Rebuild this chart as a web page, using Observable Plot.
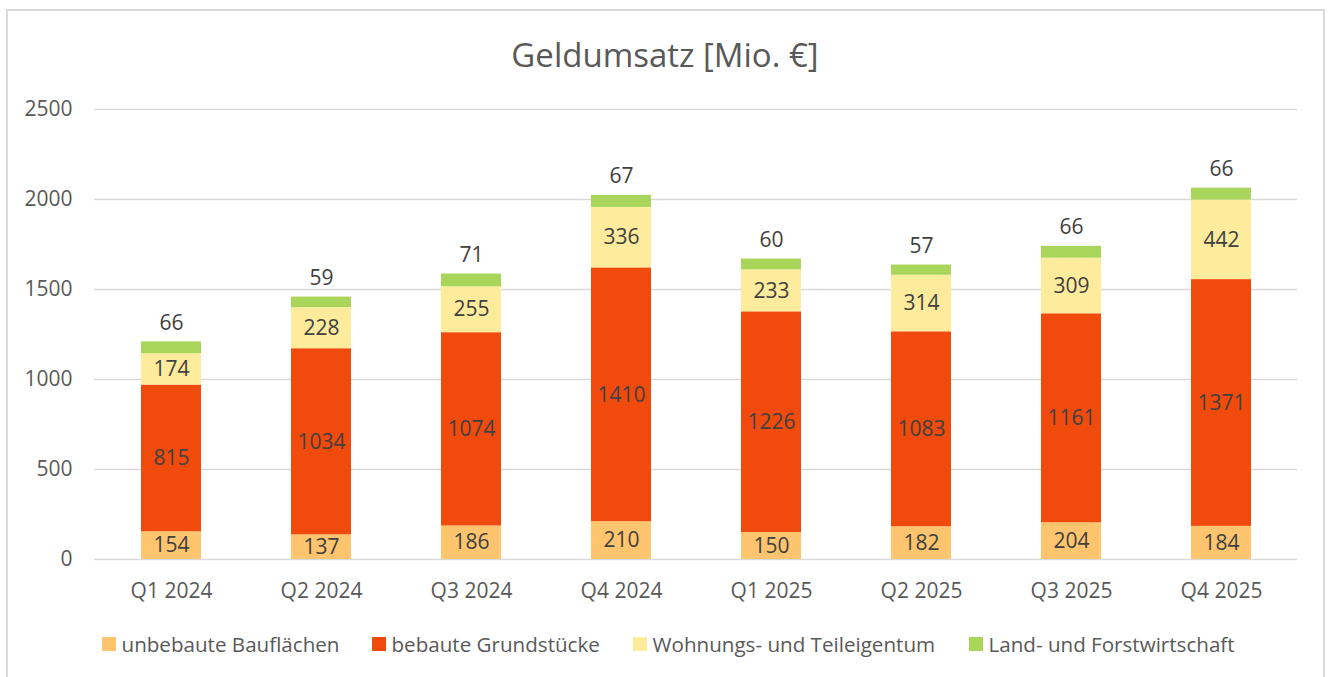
<!DOCTYPE html>
<html>
<head>
<meta charset="utf-8">
<script src="https://cdn.jsdelivr.net/npm/d3@7"></script>
<script src="https://cdn.jsdelivr.net/npm/@observablehq/plot@0.6"></script>
<style>
  html, body { margin: 0; padding: 0; background: #fff; overflow: hidden; }
  #wrap { position: relative; width: 1328px; height: 677px; font-family: "Open Sans", sans-serif; color: #595959; }
  #frame { position: absolute; left: 6px; top: 9px; width: 1319px; height: 700px; border: 2px solid #d9d9d9; box-sizing: border-box; }
  #title { position: absolute; left: 0; width: 1330px; top: 32px; text-align: center; font-size: 33px; line-height: 46px; color: #595959; }
  #chart { position: absolute; left: 0; top: 0; }
  .leg { position: absolute; top: 630px; font-size: 20.6px; line-height: 28px; color: #595959; white-space: nowrap; }
  .leg span.sw { position: absolute; left: 0; top: 7px; width: 13.5px; height: 14px; }
  .leg span.t { position: absolute; left: 19.5px; top: 0; }
</style>
</head>
<body>
<div id="wrap">
  <div id="frame"></div>
  <div id="title">Geldumsatz [Mio. €]</div>
  <div id="chart"></div>
  <div id="legend"></div>
</div>
<script>
const quarters = ["Q1 2024", "Q2 2024", "Q3 2024", "Q4 2024", "Q1 2025", "Q2 2025", "Q3 2025", "Q4 2025"];
const seriesNames = ["unbebaute Bauflächen", "bebaute Grundstücke", "Wohnungs- und Teileigentum", "Land- und Forstwirtschaft"];
const unbebaute = [154, 137, 186, 210, 150, 182, 204, 184];
const bebaute = [815, 1034, 1074, 1410, 1226, 1083, 1161, 1371];
const wohnungs = [174, 228, 255, 336, 233, 314, 309, 442];
const land = [66, 59, 71, 67, 60, 57, 66, 66];
const yTicks = [0, 500, 1000, 1500, 2000, 2500];
const colors = ["#FFC46E", "#F04B0C", "#FFEB9C", "#A9D65A"];

const seriesValues = [unbebaute, bebaute, wohnungs, land];
const rows = [];
quarters.forEach((q, i) => {
  let acc = 0;
  seriesValues.forEach((vals, s) => {
    const v = vals[i];
    rows.push({q, s: seriesNames[s], idx: s, value: v, y1: acc, y2: acc + v, mid: acc + v / 2});
    acc += v;
  });
});

const chart = Plot.plot({
  width: 1328,
  height: 677,
  marginTop: 109,
  marginBottom: 118,
  marginLeft: 94,
  marginRight: 31,
  style: {fontFamily: "Open Sans, sans-serif", fontSize: "21px", color: "#595959", background: "transparent"},
  x: {domain: quarters, paddingInner: 0.6, paddingOuter: 0.3, label: null, tickSize: 0, tickPadding: 24},
  y: {domain: [0, 2500], ticks: yTicks, tickFormat: d3.format("d"), label: null, tickSize: 0, tickPadding: 22},
  color: {domain: seriesNames, range: colors},
  marks: [
    Plot.ruleY(yTicks, {stroke: "#d9d9d9", strokeWidth: 1.5}),
    Plot.barY(rows, {x: "q", y1: "y1", y2: "y2", fill: "s"}),
    Plot.text(rows.filter(d => d.idx < 3), {x: "q", y: "mid", text: d => String(d.value), fill: "#404040", fontSize: 21}),
    Plot.text(rows.filter(d => d.idx === 3), {x: "q", y: "y2", dy: -19, text: d => String(d.value), fill: "#404040", fontSize: 21})
  ]
});
document.getElementById("chart").appendChild(chart);

const legendLeft = [102, 372, 633, 969];
const legend = document.getElementById("legend");
seriesNames.forEach((name, i) => {
  const item = document.createElement("div");
  item.className = "leg";
  item.style.left = legendLeft[i] + "px";
  item.innerHTML = `<span class="sw" style="background:${colors[i]}"></span><span class="t">${name}</span>`;
  legend.appendChild(item);
});
</script>
</body>
</html>
